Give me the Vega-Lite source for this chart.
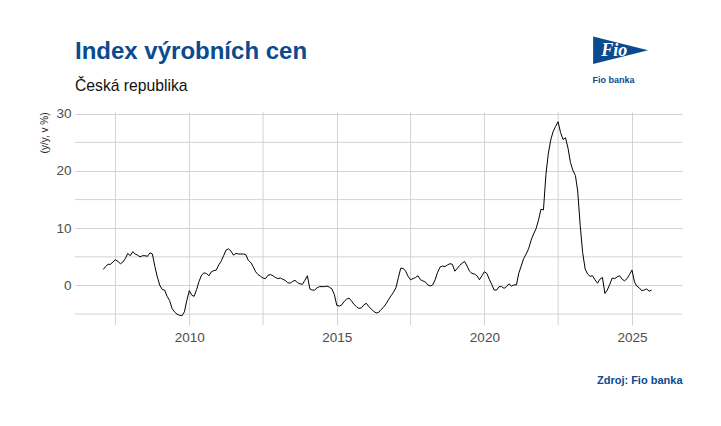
{
  "$schema": "https://vega.github.io/schema/vega-lite/v6.json",
  "width": 607,
  "height": 213,
  "autosize": {"type": "none"},
  "padding": {"left": 75, "top": 112, "right": 39, "bottom": 101},
  "background": "white",
  "config": {
    "view": {"stroke": null},
    "font": "Liberation Sans"
  },
  "title": {
    "text": "Index výrobních cen",
    "subtitle": "Česká republika",
    "anchor": "start",
    "frame": "group",
    "font": "Liberation Sans",
    "fontSize": 24,
    "fontWeight": "bold",
    "color": "#0b4a8e",
    "subtitleFont": "Liberation Sans",
    "subtitleFontSize": 15.7,
    "subtitleColor": "#111111",
    "subtitlePadding": 15,
    "offset": -57
  },
  "datasets": {
    "ppi": [
      {"d":"2007-02-01","v":2.8},{"d":"2007-03-01","v":3.3},{"d":"2007-04-01","v":3.7},{"d":"2007-05-01","v":3.7},{"d":"2007-06-01","v":4.1},{"d":"2007-07-01","v":4.5},{"d":"2007-08-01","v":4.2},{"d":"2007-09-01","v":3.8},{"d":"2007-10-01","v":4.1},{"d":"2007-11-01","v":4.7},{"d":"2007-12-01","v":5.6},
      {"d":"2008-01-01","v":5.2},{"d":"2008-02-01","v":5.9},{"d":"2008-03-01","v":5.5},{"d":"2008-04-01","v":5.3},{"d":"2008-05-01","v":5.0},{"d":"2008-06-01","v":5.2},{"d":"2008-07-01","v":5.2},{"d":"2008-08-01","v":5.1},{"d":"2008-09-01","v":5.7},{"d":"2008-10-01","v":5.5},{"d":"2008-11-01","v":3.3},{"d":"2008-12-01","v":1.5},
      {"d":"2009-01-01","v":0.0},{"d":"2009-02-01","v":-0.7},{"d":"2009-03-01","v":-0.8},{"d":"2009-04-01","v":-1.9},{"d":"2009-05-01","v":-2.6},{"d":"2009-06-01","v":-4.0},{"d":"2009-07-01","v":-4.6},{"d":"2009-08-01","v":-5.0},{"d":"2009-09-01","v":-5.2},{"d":"2009-10-01","v":-5.3},{"d":"2009-11-01","v":-4.6},{"d":"2009-12-01","v":-2.6},
      {"d":"2010-01-01","v":-0.9},{"d":"2010-02-01","v":-1.7},{"d":"2010-03-01","v":-1.9},{"d":"2010-04-01","v":-0.7},{"d":"2010-05-01","v":0.7},{"d":"2010-06-01","v":1.8},{"d":"2010-07-01","v":2.2},{"d":"2010-08-01","v":2.1},{"d":"2010-09-01","v":1.7},{"d":"2010-10-01","v":2.4},{"d":"2010-11-01","v":2.6},{"d":"2010-12-01","v":2.7},
      {"d":"2011-01-01","v":3.6},{"d":"2011-02-01","v":4.3},{"d":"2011-03-01","v":5.2},{"d":"2011-04-01","v":6.2},{"d":"2011-05-01","v":6.4},{"d":"2011-06-01","v":6.0},{"d":"2011-07-01","v":5.3},{"d":"2011-08-01","v":5.6},{"d":"2011-09-01","v":5.5},{"d":"2011-10-01","v":5.5},{"d":"2011-11-01","v":5.5},{"d":"2011-12-01","v":5.4},
      {"d":"2012-01-01","v":4.4},{"d":"2012-02-01","v":4.0},{"d":"2012-03-01","v":3.3},{"d":"2012-04-01","v":2.4},{"d":"2012-05-01","v":1.9},{"d":"2012-06-01","v":1.6},{"d":"2012-07-01","v":1.3},{"d":"2012-08-01","v":1.2},{"d":"2012-09-01","v":1.8},{"d":"2012-10-01","v":1.9},{"d":"2012-11-01","v":1.7},{"d":"2012-12-01","v":1.4},
      {"d":"2013-01-01","v":1.2},{"d":"2013-02-01","v":1.3},{"d":"2013-03-01","v":1.1},{"d":"2013-04-01","v":0.9},{"d":"2013-05-01","v":0.5},{"d":"2013-06-01","v":0.4},{"d":"2013-07-01","v":0.7},{"d":"2013-08-01","v":0.9},{"d":"2013-09-01","v":0.5},{"d":"2013-10-01","v":0.3},{"d":"2013-11-01","v":0.2},{"d":"2013-12-01","v":0.9},
      {"d":"2014-01-01","v":1.7},{"d":"2014-02-01","v":-0.6},{"d":"2014-03-01","v":-0.8},{"d":"2014-04-01","v":-0.8},{"d":"2014-05-01","v":-0.4},{"d":"2014-06-01","v":-0.2},{"d":"2014-07-01","v":-0.2},{"d":"2014-08-01","v":-0.2},{"d":"2014-09-01","v":-0.1},{"d":"2014-10-01","v":-0.3},{"d":"2014-11-01","v":-0.6},{"d":"2014-12-01","v":-1.6},
      {"d":"2015-01-01","v":-3.5},{"d":"2015-02-01","v":-3.6},{"d":"2015-03-01","v":-3.4},{"d":"2015-04-01","v":-2.8},{"d":"2015-05-01","v":-2.4},{"d":"2015-06-01","v":-2.2},{"d":"2015-07-01","v":-2.7},{"d":"2015-08-01","v":-3.3},{"d":"2015-09-01","v":-3.7},{"d":"2015-10-01","v":-4.0},{"d":"2015-11-01","v":-3.9},{"d":"2015-12-01","v":-3.4},
      {"d":"2016-01-01","v":-3.1},{"d":"2016-02-01","v":-3.7},{"d":"2016-03-01","v":-4.1},{"d":"2016-04-01","v":-4.5},{"d":"2016-05-01","v":-4.8},{"d":"2016-06-01","v":-4.7},{"d":"2016-07-01","v":-4.2},{"d":"2016-08-01","v":-3.8},{"d":"2016-09-01","v":-3.2},{"d":"2016-10-01","v":-2.5},{"d":"2016-11-01","v":-1.8},{"d":"2016-12-01","v":-1.2},
      {"d":"2017-01-01","v":-0.4},{"d":"2017-02-01","v":1.4},{"d":"2017-03-01","v":3.0},{"d":"2017-04-01","v":3.0},{"d":"2017-05-01","v":2.5},{"d":"2017-06-01","v":1.6},{"d":"2017-07-01","v":1.0},{"d":"2017-08-01","v":1.2},{"d":"2017-09-01","v":1.4},{"d":"2017-10-01","v":1.7},{"d":"2017-11-01","v":1.0},{"d":"2017-12-01","v":0.8},
      {"d":"2018-01-01","v":0.6},{"d":"2018-02-01","v":0.1},{"d":"2018-03-01","v":-0.1},{"d":"2018-04-01","v":0.1},{"d":"2018-05-01","v":1.0},{"d":"2018-06-01","v":2.3},{"d":"2018-07-01","v":3.2},{"d":"2018-08-01","v":3.4},{"d":"2018-09-01","v":3.3},{"d":"2018-10-01","v":3.6},{"d":"2018-11-01","v":3.8},{"d":"2018-12-01","v":3.7},
      {"d":"2019-01-01","v":2.5},{"d":"2019-02-01","v":3.0},{"d":"2019-03-01","v":3.5},{"d":"2019-04-01","v":3.9},{"d":"2019-05-01","v":4.2},{"d":"2019-06-01","v":3.4},{"d":"2019-07-01","v":2.5},{"d":"2019-08-01","v":2.1},{"d":"2019-09-01","v":2.0},{"d":"2019-10-01","v":1.7},{"d":"2019-11-01","v":1.0},{"d":"2019-12-01","v":1.7},
      {"d":"2020-01-01","v":2.4},{"d":"2020-02-01","v":2.1},{"d":"2020-03-01","v":1.1},{"d":"2020-04-01","v":0.2},{"d":"2020-05-01","v":-0.8},{"d":"2020-06-01","v":-0.8},{"d":"2020-07-01","v":-0.2},{"d":"2020-08-01","v":-0.2},{"d":"2020-09-01","v":-0.5},{"d":"2020-10-01","v":-0.2},{"d":"2020-11-01","v":0.3},{"d":"2020-12-01","v":-0.1},
      {"d":"2021-01-01","v":0.1},{"d":"2021-02-01","v":0.1},{"d":"2021-03-01","v":2.1},{"d":"2021-04-01","v":3.4},{"d":"2021-05-01","v":4.7},{"d":"2021-06-01","v":5.5},{"d":"2021-07-01","v":6.4},{"d":"2021-08-01","v":7.9},{"d":"2021-09-01","v":9.0},{"d":"2021-10-01","v":9.9},{"d":"2021-11-01","v":11.4},{"d":"2021-12-01","v":13.3},
      {"d":"2022-01-01","v":13.2},{"d":"2022-02-01","v":19.4},{"d":"2022-03-01","v":22.9},{"d":"2022-04-01","v":25.4},{"d":"2022-05-01","v":26.9},{"d":"2022-06-01","v":27.8},{"d":"2022-07-01","v":28.6},{"d":"2022-08-01","v":26.7},{"d":"2022-09-01","v":25.5},{"d":"2022-10-01","v":25.8},{"d":"2022-11-01","v":24.0},{"d":"2022-12-01","v":21.5},
      {"d":"2023-01-01","v":20.1},{"d":"2023-02-01","v":19.2},{"d":"2023-03-01","v":16.5},{"d":"2023-04-01","v":10.5},{"d":"2023-05-01","v":5.8},{"d":"2023-06-01","v":2.9},{"d":"2023-07-01","v":2.0},{"d":"2023-08-01","v":1.6},{"d":"2023-09-01","v":1.7},{"d":"2023-10-01","v":1.0},{"d":"2023-11-01","v":0.4},{"d":"2023-12-01","v":1.1},
      {"d":"2024-01-01","v":1.4},{"d":"2024-02-01","v":-1.4},{"d":"2024-03-01","v":-0.8},{"d":"2024-04-01","v":0.2},{"d":"2024-05-01","v":1.3},{"d":"2024-06-01","v":1.2},{"d":"2024-07-01","v":1.5},{"d":"2024-08-01","v":1.7},{"d":"2024-09-01","v":1.1},{"d":"2024-10-01","v":0.8},{"d":"2024-11-01","v":1.2},{"d":"2024-12-01","v":1.9},
      {"d":"2025-01-01","v":2.7},{"d":"2025-02-01","v":0.6},{"d":"2025-03-01","v":-0.1},{"d":"2025-04-01","v":-0.4},{"d":"2025-05-01","v":-0.9},{"d":"2025-06-01","v":-0.8},{"d":"2025-07-01","v":-0.6},{"d":"2025-08-01","v":-1.0},{"d":"2025-09-01","v":-0.8}
    ],
    "minorX": [{"m":"2007-07-02"},{"m":"2012-07-02"},{"m":"2017-07-02"},{"m":"2022-07-02"}],
    "minorY": [{"g":-5},{"g":5},{"g":15},{"g":25}],
    "logo": [{"name":"Fio banka"}]
  },
  "layer": [
    {
      "data": {"name": "minorX"},
      "mark": {"type": "rule", "color": "#d3d3d3", "strokeWidth": 1},
      "encoding": {
        "x": {"field": "m", "type": "temporal", "title": "Zdroj: Fio banka", "scale": {"domain": [{"year": 2006, "month": 2, "date": 16}, {"year": 2026, "month": 9, "date": 12}]}}
      }
    },
    {
      "data": {"name": "minorY"},
      "mark": {"type": "rule", "color": "#d3d3d3", "strokeWidth": 1},
      "encoding": {
        "y": {"field": "g", "type": "quantitative", "title": "(y/y, v %)", "scale": {"domain": [-6.9, 30.3], "nice": false, "zero": false}}
      }
    },
    {
      "data": {"name": "ppi"},
      "mark": {"type": "line", "color": "#000000", "strokeWidth": 1, "clip": true},
      "encoding": {
        "x": {
          "field": "d",
          "type": "temporal",
          "title": "Zdroj: Fio banka",
          "scale": {"domain": [{"year": 2006, "month": 2, "date": 16}, {"year": 2026, "month": 9, "date": 12}]},
          "axis": {
            "values": [{"year": 2010}, {"year": 2015}, {"year": 2020}, {"year": 2025}],
            "format": "%Y",
            "domain": false,
            "ticks": false,
            "grid": true,
            "gridColor": "#d3d3d3",
            "gridWidth": 1,
            "labelColor": "#4d4d4d",
            "labelFont": "Liberation Sans",
            "labelFontSize": 13.5,
            "labelPadding": 5,
            "labelFlush": false,
            "titleAnchor": "end",
            "titleAlign": "right",
            "titleFont": "Liberation Sans",
            "titleFontSize": 11,
            "titleFontWeight": "bold",
            "titleColor": "#0b4a8e",
            "titlePadding": 31
          }
        },
        "y": {
          "field": "v",
          "type": "quantitative",
          "title": "(y/y, v %)",
          "scale": {"domain": [-6.9, 30.3], "nice": false, "zero": false},
          "axis": {
            "values": [0, 10, 20, 30],
            "domain": false,
            "ticks": false,
            "grid": true,
            "gridColor": "#d3d3d3",
            "gridWidth": 1,
            "labelColor": "#4d4d4d",
            "labelFont": "Liberation Sans",
            "labelFontSize": 13.5,
            "labelPadding": 4,
            "labelOverlap": false,
            "titleAnchor": "end",
            "titleFont": "Liberation Sans",
            "titleFontSize": 10,
            "titleFontWeight": "normal",
            "titleColor": "#222222",
            "titlePadding": 6
          }
        }
      }
    },
    {
      "data": {"name": "logo"},
      "mark": {"type": "point", "shape": "M-1,-0.5L1,0L-1,0.5Z", "filled": true, "color": "#0b4a8e", "opacity": 1, "size": 3025},
      "encoding": {
        "x": {"datum": {"year": 2024, "month": 8, "date": 13}, "type": "temporal", "scale": {"domain": [{"year": 2006, "month": 2, "date": 16}, {"year": 2026, "month": 9, "date": 12}]}},
        "y": {"datum": 41.1, "type": "quantitative", "scale": {"domain": [-6.9, 30.3], "nice": false, "zero": false}}
      }
    },
    {
      "data": {"name": "logo"},
      "mark": {"type": "text", "text": "Fio", "font": "Liberation Serif", "fontSize": 18, "fontWeight": "bold", "fontStyle": "italic", "color": "white", "align": "center", "baseline": "middle"},
      "encoding": {
        "x": {"datum": {"year": 2024, "month": 5, "date": 25}, "type": "temporal", "scale": {"domain": [{"year": 2006, "month": 2, "date": 16}, {"year": 2026, "month": 9, "date": 12}]}},
        "y": {"datum": 40.9, "type": "quantitative", "scale": {"domain": [-6.9, 30.3], "nice": false, "zero": false}}
      }
    },
    {
      "data": {"name": "logo"},
      "mark": {"type": "text", "font": "Liberation Sans", "fontSize": 9, "fontWeight": "bold", "color": "#0b4a8e", "align": "center", "baseline": "middle"},
      "encoding": {
        "text": {"field": "name"},
        "x": {"datum": {"year": 2024, "month": 5, "date": 18}, "type": "temporal", "scale": {"domain": [{"year": 2006, "month": 2, "date": 16}, {"year": 2026, "month": 9, "date": 12}]}},
        "y": {"datum": 35.9, "type": "quantitative", "scale": {"domain": [-6.9, 30.3], "nice": false, "zero": false}}
      }
    }
  ]
}
